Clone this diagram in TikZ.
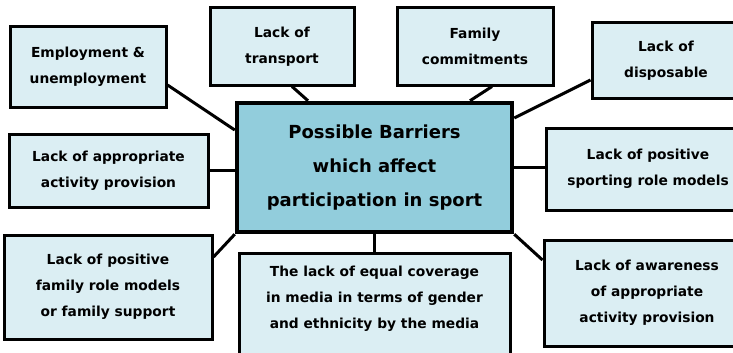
\documentclass[tikz,border=0pt]{standalone}
\usepackage{fontspec}
\setmainfont{DejaVu Sans}
\definecolor{paleblue}{HTML}{DBEEF3}
\definecolor{midblue}{HTML}{92CDDC}
\begin{document}
\begin{tikzpicture}[x=1pt,y=-1pt,
    barrier/.style={draw, line width=3pt, fill=paleblue, align=center,
      font=\fontsize{13.8}{26}\selectfont\bfseries, inner sep=0pt},
    hub/.style={draw, line width=4.5pt, fill=midblue, align=center,
      font=\fontsize{18}{34}\selectfont\bfseries, inner sep=0pt},
    link/.style={line width=3pt}]
      \useasboundingbox (0,0) rectangle (733,353);
      \node[hub, minimum width=275pt, minimum height=129pt] (mid) at (374.5,167.5)
        {Possible Barriers\\which affect\\participation in sport};
      \node[barrier, minimum width=156pt, minimum height=80pt] (emp) at (88,67)
        {Employment \&\\unemployment};
      \node[barrier, minimum width=144pt, minimum height=77pt] (trans) at (282,46.5)
        {Lack of\\transport};
      \node[barrier, minimum width=156pt, minimum height=77pt] (fam) at (475,46.5)
        {Family\\commitments};
      \node[barrier, minimum width=148pt, minimum height=75pt] (disp) at (666,60.5)
        {Lack of\\disposable};
      \node[barrier, minimum width=199pt, minimum height=73pt] (act) at (108.5,170.5)
        {Lack of appropriate\\activity provision};
      \node[barrier, minimum width=204pt, minimum height=82pt] (spt) at (648,169)
        {Lack of positive\\sporting role models};
      \node[barrier, minimum width=208pt, minimum height=104pt] (famrole) at (108,287)
        {Lack of positive\\family role models\\or family support};
      \node[barrier, minimum width=206pt, minimum height=106pt] (aware) at (647,293)
        {Lack of awareness\\of appropriate\\activity provision};
      \node[barrier, minimum width=271pt, inner ysep=13pt, anchor=north] (media) at (374.5,252)
        {The lack of equal coverage\\in media in terms of gender\\and ethnicity by the media\\\rule{0pt}{30pt}};
      \draw[link] ([yshift=-18pt]emp.east) -- ([yshift=37.5pt]mid.west);
      \draw[link] ([xshift=10pt]trans.south) -- ([xshift=-66.5pt]mid.north);
      \draw[link] ([xshift=17pt]fam.south) -- ([xshift=95.5pt]mid.north);
      \draw[link] ([yshift=-19.5pt]disp.west) -- ([yshift=49.5pt]mid.east);
      \draw[link] (act.east) -- (mid.west |- act.east);
      \draw[link] (mid.east) -- (spt.west |- mid.east);
      \draw[link] ([yshift=30pt]famrole.east) -- (mid.south west);
      \draw[link] (mid.south) -- (media.north);
      \draw[link] ([yshift=33pt]aware.west) -- (mid.south east);
    \end{tikzpicture}
\end{document}
